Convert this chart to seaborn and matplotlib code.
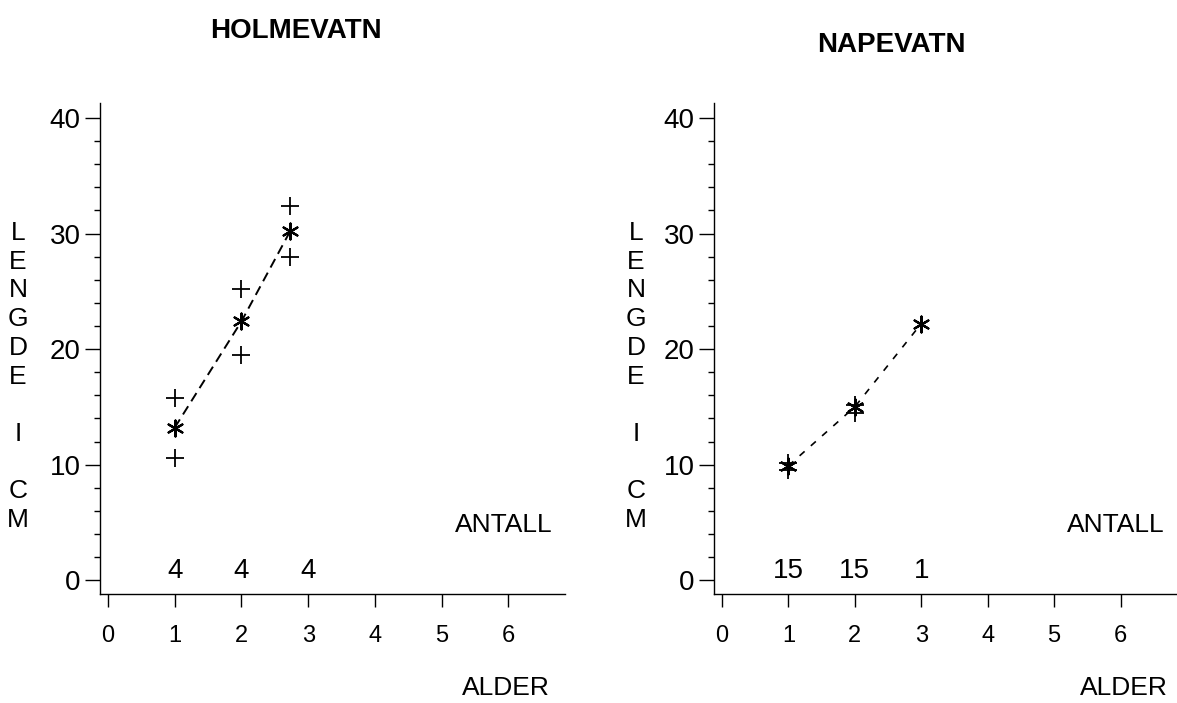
import matplotlib
matplotlib.use("Agg")
import matplotlib.pyplot as plt
from matplotlib import font_manager
from matplotlib.ticker import MultipleLocator
import pandas as pd
import seaborn as sns

# Holmevatn: mean length per age class, with largest and smallest fish
holm_age = [1.0, 2.0, 2.73]
holm_mean = [13.2, 22.4, 30.2]
holm_max = [15.8, 25.2, 32.4]
holm_min = [10.6, 19.5, 28.0]
holm_count_age = [1, 2, 3]
holm_count = [4, 4, 4]

# Napevatn: mean length per age class, with largest and smallest fish
nape_age = [1.0, 2.0, 3.0]
nape_mean = [9.9, 15.0, 22.2]
nape_range_age = [1.0, 2.0]
nape_max = [10.1, 15.2]
nape_min = [9.5, 14.5]
nape_count_age = [1, 2, 3]
nape_count = [15, 15, 1]

x_ticks = [0, 1, 2, 3, 4, 5, 6]
y_ticks = [0, 10, 20, 30, 40]
titles = ["HOLMEVATN", "NAPEVATN"]
y_label = "LENGDE I CM"
x_label = "ALDER"
count_label = "ANTALL"


def pick_family(candidates):
    for fam in candidates:
        try:
            font_manager.findfont(font_manager.FontProperties(family=fam),
                                  fallback_to_default=False)
            return fam
        except ValueError:
            continue
    return "DejaVu Sans"


sns.set_theme(style="ticks")
family = pick_family(["Liberation Sans Narrow", "Liberation Sans", "DejaVu Sans"])
plt.rcParams["font.family"] = [family, "DejaVu Sans"]
plt.rcParams["axes.linewidth"] = 1.0
plt.rcParams["text.color"] = "black"
plt.rcParams["xtick.color"] = "black"
plt.rcParams["ytick.color"] = "black"

W, H = 1177, 703
fig = plt.figure(figsize=(W / 100, H / 100), dpi=100)
fig.patch.set_facecolor("white")

panels = [
    dict(rect=[100 / W, 1 - 594 / H, 465 / W, 491 / H], age=holm_age, mean=holm_mean,
         r_age=holm_age, r_max=holm_max, r_min=holm_min,
         c_age=holm_count_age, counts=holm_count, title=titles[0],
         title_xy=(296, 31), ylab_x=18, alder_x=550, dash=(5, 3), lw=1.4),
    dict(rect=[714 / W, 1 - 594 / H, 463 / W, 491 / H], age=nape_age, mean=nape_mean,
         r_age=nape_range_age, r_max=nape_max, r_min=nape_min,
         c_age=nape_count_age, counts=nape_count, title=titles[1],
         title_xy=(891, 45), ylab_x=636, alder_x=1168, dash=(4, 5), lw=1.2),
]

for p in panels:
    ax = fig.add_axes(p["rect"])
    ax.set_facecolor("white")

    mean_df = pd.DataFrame({"alder": p["age"], "lengde": p["mean"]})
    range_df = pd.DataFrame({
        "alder": list(p["r_age"]) * 2,
        "lengde": list(p["r_max"]) + list(p["r_min"]),
    })

    sns.lineplot(data=mean_df, x="alder", y="lengde", ax=ax, color="black",
                 linewidth=p["lw"], dashes=False, linestyle=(0, p["dash"]),
                 sort=False, zorder=2)
    sns.scatterplot(data=range_df, x="alder", y="lengde", ax=ax, marker="+",
                    s=150, color="black", linewidth=1.3, zorder=3)
    sns.scatterplot(data=mean_df, x="alder", y="lengde", ax=ax, marker=(6, 2, 0),
                    s=130, color="black", linewidth=1.6, zorder=4)

    ax.set_xlim(-0.12, 6.85)
    ax.set_ylim(-1.2, 41.3)
    ax.set_xticks(x_ticks)
    ax.set_yticks(y_ticks)
    ax.yaxis.set_minor_locator(MultipleLocator(2))
    ax.set_xlabel("")
    ax.set_ylabel("")
    sns.despine(ax=ax)
    for s in ("left", "bottom"):
        ax.spines[s].set_color("black")
        ax.spines[s].set_linewidth(1.0)

    ax.tick_params(axis="y", which="major", direction="out", length=11, width=1.0,
                   pad=3, labelsize=20)
    ax.tick_params(axis="y", which="minor", direction="out", length=4, width=1.0)
    ax.tick_params(axis="x", which="major", direction="out", length=9, width=1.0,
                   pad=13, labelsize=17)

    # number of fish in each age class
    for a, n in zip(p["c_age"], p["counts"]):
        ax.text(a, 0.15, str(n), ha="center", va="baseline", fontsize=20)
    ax.text(6.66, 4.8, count_label, ha="right", va="center", fontsize=19)

    # panel title
    tx, ty = p["title_xy"]
    fig.text(tx / W, 1 - ty / H, p["title"], ha="center", va="center",
             fontsize=20, fontweight="bold")

    # x-axis label
    fig.text(p["alder_x"] / W, 1 - 688 / H, x_label, ha="right", va="center",
             fontsize=19)

    # y-axis label written as a column of letters
    step = 28.7
    for i, ch in enumerate(y_label):
        if ch == " ":
            continue
        fig.text(p["ylab_x"] / W, 1 - (233 + i * step) / H, ch, ha="center",
                 va="center", fontsize=19)

fig.savefig("out.png", dpi=100, facecolor="white")
